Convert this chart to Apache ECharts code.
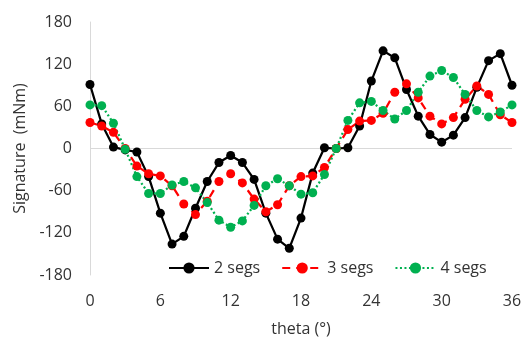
<!DOCTYPE html>
<html>
<head>
<meta charset="utf-8">
<script src="https://cdn.jsdelivr.net/npm/echarts@6/dist/echarts.min.js"></script>
<style>html,body{margin:0;padding:0;background:#fff}#c{width:522px;height:340px}</style>
</head>
<body>
<div id="c"></div>
<script>
const theta = [0,1,2,3,4,5,6,7,8,9,10,11,12,13,14,15,16,17,18,19,20,21,22,23,24,25,26,27,28,29,30,31,32,33,34,35,36];
const segs2 = [91,35,2,-2,-5,-40,-92,-136,-125,-85,-47,-20,-10,-20,-44,-92,-129,-142,-99,-35,1,0,1,32,96,139,129,84,46,20,9,19,44,87,125,135,90];
const segs3 = [37,32,23,0,-25,-36,-39,-53,-79,-94,-75,-47,-36,-49,-72,-90,-80,-53,-40,-39,-27,0,27,39,40,50,80,92,72,46,35,44,70,89,77,48,37];
const segs4 = [62,61,36,-1,-40,-64,-64,-52,-47,-56,-77,-102,-112,-103,-81,-53,-43,-53,-65,-63,-37,0,40,65,67,54,42,54,80,103,111,101,77,54,45,52,62];
const xTicks = [0,6,12,18,24,30,36];
const yTicks = [-180,-120,-60,0,60,120,180];
const seriesNames = ['2 segs','3 segs','4 segs'];

const pairs = arr => theta.map((t,i)=>[t,arr[i]]);
const font = 'Open Sans';
const txt = '#333333';

const chart = echarts.init(document.getElementById('c'));
chart.setOption({
  animation:false,
  textStyle:{fontFamily:font},
  grid:{left:90,right:10,top:22,bottom:65,containLabel:false,outerBoundsMode:'none'},
  legend:{
    left:163, top:255, itemWidth:40, itemHeight:14, itemGap:21,
    textStyle:{fontFamily:font,fontSize:16,color:txt},
    data:seriesNames
  },
  xAxis:{
    type:'value', min:xTicks[0], max:xTicks[xTicks.length-1], interval:6,
    name:'theta (°)', nameLocation:'middle', nameGap:46,
    nameTextStyle:{fontFamily:font,fontSize:16,color:txt},
    axisLine:{show:false}, axisTick:{show:false}, splitLine:{show:false},
    axisLabel:{fontFamily:font,fontSize:16,color:txt,margin:18}
  },
  yAxis:{
    type:'value', min:yTicks[0], max:yTicks[yTicks.length-1], interval:60,
    name:'Signature  (mNm)', nameLocation:'middle', nameGap:62, nameRotate:90,
    nameTextStyle:{fontFamily:font,fontSize:16,color:txt},
    axisLine:{show:true,lineStyle:{color:'#d9d9d9',width:1}},
    axisTick:{show:false},
    splitLine:{show:true,lineStyle:{width:1,color:yTicks.map(v=>v===0?'#d9d9d9':'rgba(0,0,0,0)')}},
    axisLabel:{fontFamily:font,fontSize:16,color:txt,margin:18}
  },
  series:[
    {name:seriesNames[0],type:'line',data:pairs(segs2),symbol:'circle',symbolSize:9,
     itemStyle:{color:'#000000'},lineStyle:{color:'#000000',width:2.25,type:'solid'}},
    {name:seriesNames[1],type:'line',data:pairs(segs3),symbol:'circle',symbolSize:9,
     itemStyle:{color:'#ff0000'},lineStyle:{color:'#ff0000',width:2.25,type:[8,6]}},
    {name:seriesNames[2],type:'line',data:pairs(segs4),symbol:'circle',symbolSize:9,
     itemStyle:{color:'#00b050'},lineStyle:{color:'#00b050',width:2.25,type:[2,2.5]}}
  ]
});
</script>
</body>
</html>
